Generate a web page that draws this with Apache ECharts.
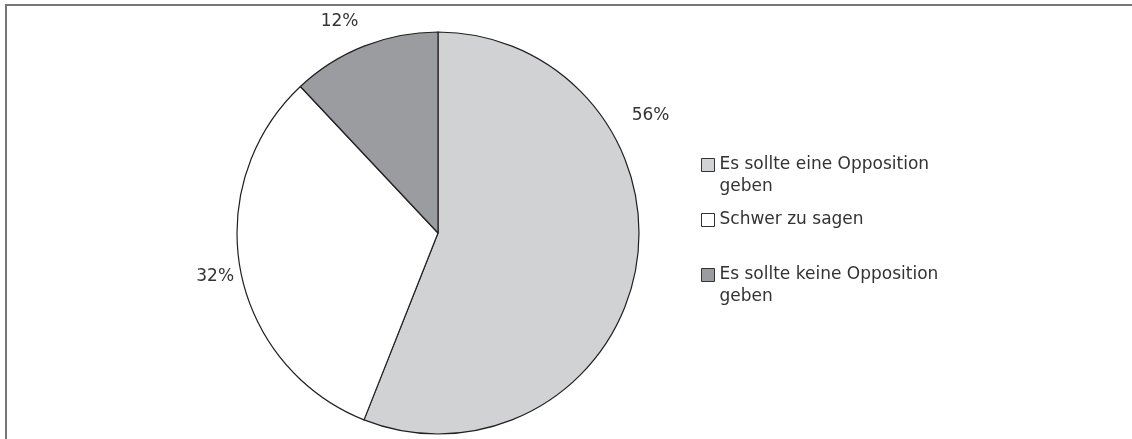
<!DOCTYPE html>
<html>
<head>
<meta charset="utf-8">
<script src="https://cdn.jsdelivr.net/npm/echarts@6/dist/echarts.min.js"></script>
<style>
  * { margin: 0; padding: 0; }
  html, body { background: #fff; }
  #main { width: 1132px; height: 439px; }
</style>
</head>
<body>
<div id="main"></div>
<script>
  // Daten
  var categories = ['Es sollte eine Opposition geben', 'Schwer zu sagen', 'Es sollte keine Opposition geben'];
  var values = [56, 32, 12];
  var colors = ['#d1d2d4', '#ffffff', '#9b9ca0'];
  // Lage der Prozentangaben (Winkel in Grad, Abstand vom Mittelpunkt)
  var labelAngle = [29, 191, 115];
  var labelDist = [243, 227, 233];

  var cx = 438, cy = 233, r = 201;
  var font = 'DejaVu Sans';

  var chart = echarts.init(document.getElementById('main'));
  chart.setOption({
    animation: false,
    graphic: [{
      type: 'rect',
      shape: { x: 6, y: 5, width: 1300, height: 600 },
      style: { fill: 'none', stroke: '#777', lineWidth: 2 },
      silent: true
    }],
    legend: {
      orient: 'vertical',
      left: 701,
      top: 132,
      padding: 0,
      itemGap: 11,
      itemWidth: 13,
      itemHeight: 13,
      icon: 'rect',
      data: categories,
      itemStyle: { borderColor: '#333', borderWidth: 1 },
      textStyle: { fontFamily: font, fontSize: 17, color: '#333', lineHeight: 22 },
      formatter: function (name) {
        if (name.indexOf(' geben') > 0) {
          return '\n' + name.replace(' geben', '\ngeben');
        }
        return name;
      }
    },
    series: [{
      type: 'pie',
      center: [cx, cy],
      radius: r,
      startAngle: 90,
      clockwise: true,
      avoidLabelOverlap: false,
      itemStyle: { borderColor: '#231f20', borderWidth: 1.2 },
      label: {
        show: true,
        position: 'outside',
        formatter: '{c}%',
        fontFamily: font,
        fontSize: 17,
        color: '#333'
      },
      labelLine: { show: false },
      labelLayout: function (p) {
        var a = labelAngle[p.dataIndex] * Math.PI / 180;
        var d = labelDist[p.dataIndex];
        return {
          x: cx + d * Math.cos(a),
          y: cy - d * Math.sin(a),
          align: 'center',
          verticalAlign: 'middle'
        };
      },
      emphasis: { disabled: true },
      data: categories.map(function (c, i) {
        return { name: c, value: values[i], itemStyle: { color: colors[i] } };
      })
    }]
  });
</script>
</body>
</html>
